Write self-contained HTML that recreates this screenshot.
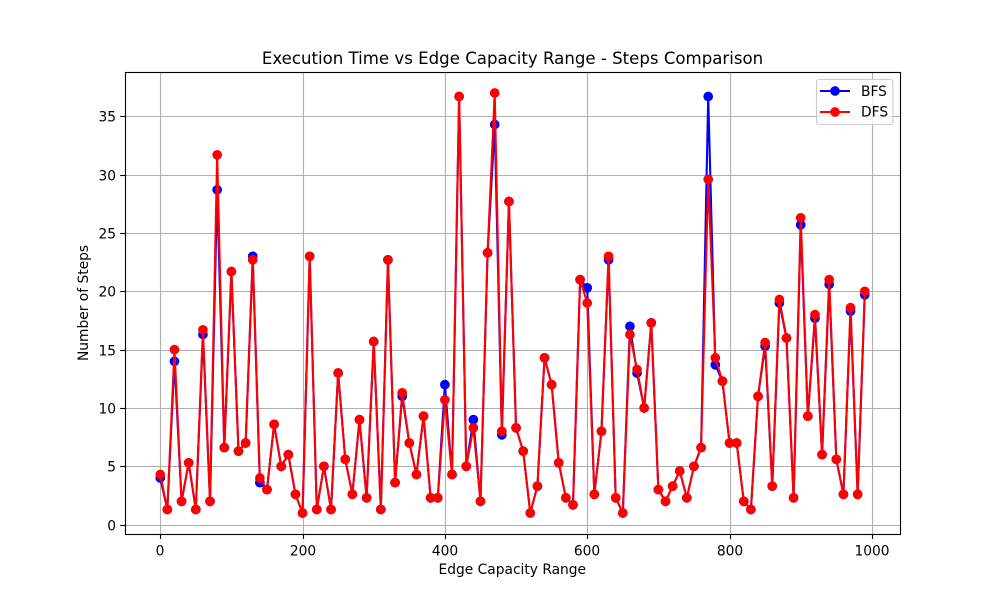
<!DOCTYPE html>
<html lang="en">
<head>
<meta charset="utf-8">
<title>Execution Time vs Edge Capacity Range - Steps Comparison</title>
<style>
html,body{margin:0;padding:0;background:#fff;width:1000px;height:600px;overflow:hidden}
svg{display:block}
text{font-family:"DejaVu Sans","Liberation Sans",sans-serif;fill:#000}
</style>
</head>
<body>
<svg id="chart" width="1000" height="600" viewBox="0 0 1000 600" xmlns="http://www.w3.org/2000/svg">
  <rect x="0" y="0" width="1000" height="600" fill="#fff"/>
  <g id="grid"></g>
  <g id="series"></g>
  <rect x="125.5" y="72.5" width="775" height="462" fill="none" stroke="#000" stroke-width="1.11"/>
  <g id="ticks"></g>
  <text x="512.5" y="64" font-size="16.6" text-anchor="middle">Execution Time vs Edge Capacity Range - Steps Comparison</text>
  <text x="512.3" y="574" font-size="13.8" text-anchor="middle">Edge Capacity Range</text>
  <text transform="translate(88 303) rotate(-90)" font-size="13.8" text-anchor="middle">Number of Steps</text>
  <g>
    <rect x="816.5" y="79.5" width="76.4" height="45" rx="2.8" fill="#fff" fill-opacity="0.8" stroke="#ccc" stroke-width="1.11"/>
    <g>
      <line x1="820" y1="91" x2="850" y2="91" stroke="#0000ff" stroke-width="2.08"/>
      <circle cx="835" cy="91" r="4.86" fill="#0000ff"/>
      <text x="861" y="96" font-size="13.8">BFS</text>
    </g>
    <g>
      <line x1="820" y1="112" x2="850" y2="112" stroke="#ff0000" stroke-width="2.08"/>
      <circle cx="835" cy="112" r="4.86" fill="#ff0000"/>
      <text x="861" y="116.5" font-size="13.8">DFS</text>
    </g>
  </g>
</svg>
<script>
const capacities = [0,10,20,30,40,50,60,70,80,90,100,110,120,130,140,150,160,170,180,190,200,210,220,230,240,250,260,270,280,290,300,310,320,330,340,350,360,370,380,390,400,410,420,430,440,450,460,470,480,490,500,510,520,530,540,550,560,570,580,590,600,610,620,630,640,650,660,670,680,690,700,710,720,730,740,750,760,770,780,790,800,810,820,830,840,850,860,870,880,890,900,910,920,930,940,950,960,970,980,990];
const bfsSteps = [4,1.3,14,2,5.3,1.3,16.3,2,28.7,6.6,21.7,6.3,7,23,3.6,3,8.6,5,6,2.6,1,23,1.3,5,1.3,13,5.6,2.6,9,2.3,15.7,1.3,22.7,3.6,11,7,4.3,9.3,2.3,2.3,12,4.3,36.7,5,9,2,23.3,34.3,7.7,27.7,8.3,6.3,1,3.3,14.3,12,5.3,2.3,1.7,21,20.3,2.6,8,22.7,2.3,1,17,13,10,17.3,3,2,3.3,4.6,2.3,5,6.6,36.7,13.7,12.3,7,7,2,1.3,11,15.3,3.3,19,16,2.3,25.7,9.3,17.7,6,20.6,5.6,2.6,18.3,2.6,19.7];
const dfsSteps = [4.3,1.3,15,2,5.3,1.3,16.7,2,31.7,6.6,21.7,6.3,7,22.7,4,3,8.6,5,6,2.6,1,23,1.3,5,1.3,13,5.6,2.6,9,2.3,15.7,1.3,22.7,3.6,11.3,7,4.3,9.3,2.3,2.3,10.7,4.3,36.7,5,8.3,2,23.3,37,8,27.7,8.3,6.3,1,3.3,14.3,12,5.3,2.3,1.7,21,19,2.6,8,23,2.3,1,16.3,13.3,10,17.3,3,2,3.3,4.6,2.3,5,6.6,29.6,14.3,12.3,7,7,2,1.3,11,15.6,3.3,19.3,16,2.3,26.3,9.3,18,6,21,5.6,2.6,18.6,2.6,20];
const xTickLabels = [0,200,400,600,800,1000];
const yTickLabels = [0,5,10,15,20,25,30,35];

const NS = 'http://www.w3.org/2000/svg';
const plotLeft = 125, plotRight = 900, plotTop = 72, plotBottom = 534;

function extent(values) {
  return [Math.min.apply(null, values), Math.max.apply(null, values)];
}
const xExt = extent(capacities);
const yExt = extent(bfsSteps.concat(dfsSteps));
const xPad = (xExt[1] - xExt[0]) * 0.05;
const yPad = (yExt[1] - yExt[0]) * 0.05;

function xScale(v) {
  return plotLeft + (v - (xExt[0] - xPad)) / (xExt[1] - xExt[0] + 2 * xPad) * (plotRight - plotLeft);
}
function yScale(v) {
  return plotBottom - (v - (yExt[0] - yPad)) / (yExt[1] - yExt[0] + 2 * yPad) * (plotBottom - plotTop);
}
function snap(p) {
  return Math.round(p) + 0.5;
}
function make(tag, attrs, parent) {
  const el = document.createElementNS(NS, tag);
  for (const k in attrs) el.setAttribute(k, attrs[k]);
  parent.appendChild(el);
  return el;
}

const gridLayer = document.getElementById('grid');
const tickLayer = document.getElementById('ticks');
const seriesLayer = document.getElementById('series');

xTickLabels.forEach(function (t) {
  const px = snap(xScale(t));
  const g = make('line', {x1: px, x2: px, y1: plotTop, y2: plotBottom, stroke: '#b0b0b0', 'stroke-width': 1.11}, gridLayer);
  
  
  const m = make('line', {x1: px, x2: px, y1: plotBottom + 0.5, y2: plotBottom + 5, stroke: '#000', 'stroke-width': 1.11}, tickLayer);
  
  
  const l = make('text', {x: px - 0.5, y: 555.5, 'font-size': 13.8, 'text-anchor': 'middle'}, tickLayer);
  
  
  l.textContent = String(t);
});

yTickLabels.forEach(function (t) {
  const py = snap(yScale(t));
  const g = make('line', {x1: plotLeft, x2: plotRight, y1: py, y2: py, stroke: '#b0b0b0', 'stroke-width': 1.11}, gridLayer);
  
  
  const m = make('line', {x1: plotLeft - 4.8, x2: plotLeft + 0.5, y1: py, y2: py, stroke: '#000', 'stroke-width': 1.11}, tickLayer);
  
  
  const l = make('text', {x: 116, y: py + 5, 'font-size': 13.8, 'text-anchor': 'end'}, tickLayer);
  
  
  l.textContent = String(t);
});

function drawSeries(values, color, key) {
  const group = make('g', {}, seriesLayer);
  
  
  const pts = values.map(function (v, i) {
    return xScale(capacities[i]).toFixed(2) + ',' + yScale(v).toFixed(2);
  }).join(' ');
  const line = make('polyline', {points: pts, fill: 'none', stroke: color, 'stroke-width': 2.08, 'stroke-linejoin': 'round'}, group);
  
  
  values.forEach(function (v, i) {
    const c = make('circle', {cx: xScale(capacities[i]).toFixed(2), cy: yScale(v).toFixed(2), r: 4.86, fill: color}, group);
    
    
  });
}
drawSeries(bfsSteps, '#0000ff', 'bfs');
drawSeries(dfsSteps, '#ff0000', 'dfs');
</script>
</body>
</html>
